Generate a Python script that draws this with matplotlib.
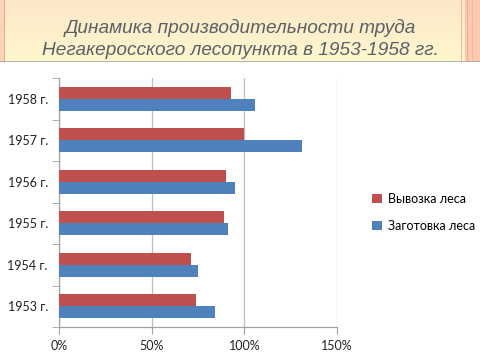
import numpy as np
import matplotlib.pyplot as plt
from matplotlib.patches import Rectangle

years = ['1953 г.', '1954 г.', '1955 г.', '1956 г.', '1957 г.', '1958 г.']
vyvozka = [74, 71, 89, 90, 100, 93]      # Вывозка леса, %
zagotovka = [84, 75, 91, 95, 131, 106]   # Заготовка леса, %
xticks = [0, 50, 100, 150]
xlabels = ['0%', '50%', '100%', '150%']

title = 'Динамика производительности труда\nНегакеросского лесопункта в 1953-1958 гг.'

fonts = ['Lato', 'Noto Sans', 'DejaVu Sans']
red = '#C0504D'
blue = '#4F81BD'

fig = plt.figure(figsize=(4.8, 3.59), dpi=100)
fig.patch.set_facecolor('white')

# banner at the top
ban = fig.add_axes([0, 1 - 62 / 359, 1, 62 / 359])
grad = np.linspace(0, 1, 50).reshape(-1, 1)
c1 = np.array([253, 231, 200]) / 255.
c2 = np.array([255, 247, 206]) / 255.
img = c1[None, None, :] * (1 - grad[:, :, None]) + c2[None, None, :] * grad[:, :, None]
ban.imshow(img, aspect='auto', extent=[0, 480, 62, 0])
ban.set_xlim(0, 480)
ban.set_ylim(62, 0)
ban.add_patch(Rectangle((0, 0), 4, 62, color='#FAD3BA', lw=0))
ban.add_patch(Rectangle((4, 0), 1, 62, color='#F3A88C', lw=0))
ban.add_patch(Rectangle((461, 0), 1.2, 62, color='#F6B89C', lw=0))
ban.add_patch(Rectangle((465, 0), 15, 62, color='#FCC8B0', lw=0))
ban.add_patch(Rectangle((467, 0), 1.2, 62, color='#F7A98C', lw=0))
ban.add_patch(Rectangle((472, 0), 1, 62, color='#F9B8A0', lw=0))
ban.axhline(61.5, color='#A6A6A6', lw=1.2)
ban.text(240, 39, title, ha='center', va='center', fontsize=13.7,
         style='italic', color='#5A6068', family=['Liberation Sans', 'DejaVu Sans'],
         linespacing=1.35)
ban.axis('off')

ax = fig.add_axes([59 / 480, 1 - 327 / 359, 278 / 480, 249 / 359])
y = np.arange(len(years))
h = 0.29
ax.barh(y + h / 2, vyvozka, height=h, color=red, label='Вывозка леса', zorder=3)
ax.barh(y - h / 2, zagotovka, height=h, color=blue, label='Заготовка леса', zorder=3)

ax.set_xlim(0, 150)
ax.set_ylim(-0.5, len(years) - 0.5)
ax.set_xticks(xticks)
ax.set_xticklabels(xlabels, family=fonts, fontsize=9, color='#222222')
ax.set_yticks(y)
ax.set_yticklabels(years, family=fonts, fontsize=9, color='#222222')
ax.set_yticks(np.arange(-0.5, len(years)), minor=True)
ax.tick_params(axis='y', which='major', length=0, pad=8)
ax.tick_params(axis='y', which='minor', length=5, color='#A0A0A0', direction='out')
ax.tick_params(axis='x', length=5, color='#A0A0A0', pad=4)
ax.grid(axis='x', color='#BFBFBF', lw=0.9, zorder=0)
for s in ['top', 'right']:
    ax.spines[s].set_visible(False)
for s in ['left', 'bottom']:
    ax.spines[s].set_color('#A0A0A0')
    ax.spines[s].set_linewidth(0.9)

leg = fig.legend(*ax.get_legend_handles_labels(), loc='upper left',
                 bbox_to_anchor=(372 / 480, 1 - 193 / 359), frameon=False,
                 prop={'family': fonts, 'size': 9}, handlelength=0.8,
                 handleheight=0.8, handletextpad=0.45, labelspacing=1.2,
                 borderpad=0, borderaxespad=0)

fig.savefig('out.png', dpi=100)
